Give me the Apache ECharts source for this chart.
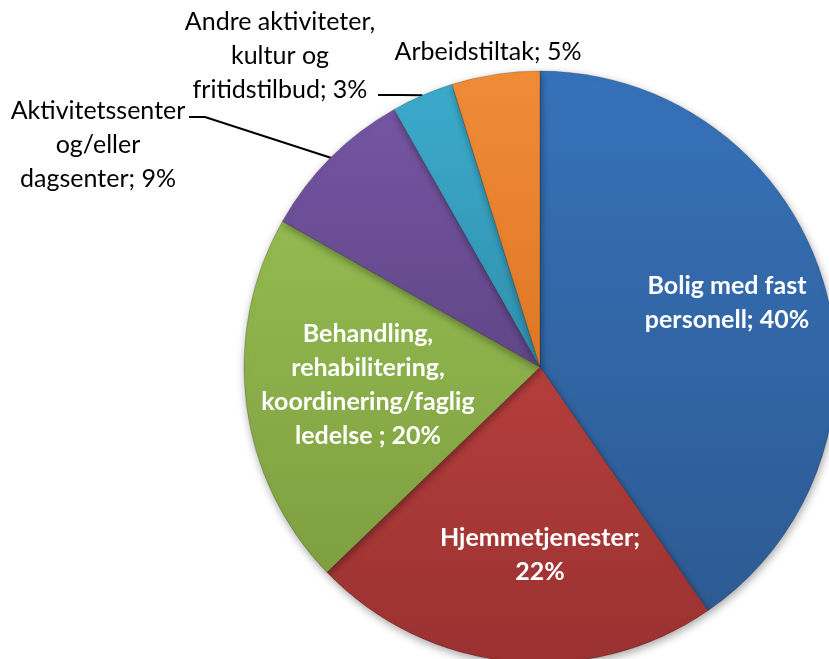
<!DOCTYPE html>
<html>
<head>
<meta charset="utf-8">
<script src="https://cdn.jsdelivr.net/npm/echarts@6/dist/echarts.min.js"></script>
<style>
html,body{margin:0;padding:0;background:#fff;}
#chart{width:829px;height:659px;}
</style>
</head>
<body>
<div id="chart"></div>
<script>
// ---- data ----
var categories = [
  'Bolig med fast\npersonell',
  'Hjemmetjenester',
  'Behandling,\nrehabilitering,\nkoordinering/faglig\nledelse ',
  'Aktivitetssenter\nog/eller\ndagsenter',
  'Andre aktiviteter,\nkultur og\nfritidstilbud',
  'Arbeidstiltak'
];
var values = [40.4, 22.4, 20.4, 8.6, 3.4, 4.8];
var separators = ['; ', ';\n', '; ', '; ', '; ', '; '];

// ---- styling ----
var colorsTop = ['#3672B9', '#B43F3C', '#93BA50', '#7455A2', '#3CAACB', '#F08B36'];
var colorsBottom = ['#2D5A93', '#9A3130', '#7F9F40', '#614687', '#3090AE', '#DE7826'];
var insideLabel = [true, true, true, false, false, false];
var labelPos = [[727, 303], [540, 555], [368, 385], [98, 145], [280, 56], [488, 52]];
var leaderEnd = [null, null, null, [[205, 117], [189, 117]], [[400, 95], [378, 95]], null];

var data = categories.map(function (c, i) {
  var item = {
    name: c,
    value: values[i],
    itemStyle: {
      color: new echarts.graphic.LinearGradient(0, 0, 0, 1, [
        { offset: 0, color: colorsTop[i] },
        { offset: 1, color: colorsBottom[i] }
      ])
    }
  };
  if (insideLabel[i]) {
    item.label = { position: 'inside', color: '#fff', fontWeight: 'bold', fontSize: 25 };
    item.labelLine = { show: false };
  } else {
    item.label = { position: 'outside', color: '#000', fontWeight: 'normal', fontSize: 25 };
    item.labelLine = { show: leaderEnd[i] != null, lineStyle: { color: '#000', width: 2 } };
  }
  return item;
});

var chart = echarts.init(document.getElementById('chart'), null, { renderer: 'canvas' });
chart.setOption({
  animation: false,
  backgroundColor: '#fff',
  series: [{
    type: 'pie',
    center: [540, 367],
    radius: 296,
    startAngle: 90,
    clockwise: true,
    avoidLabelOverlap: false,
    data: data,
    itemStyle: {
      borderColor: 'rgba(0,0,0,0.18)',
      borderWidth: 1,
      shadowBlur: 8,
      shadowOffsetX: 1,
      shadowOffsetY: 3,
      shadowColor: 'rgba(0,0,0,0.35)'
    },
    label: {
      fontFamily: 'Lato',
      lineHeight: 34,
      align: 'center',
      formatter: function (p) {
        return p.name + separators[p.dataIndex] + Math.round(p.percent) + '%';
      }
    },
    labelLine: { length: 20, length2: 20 },
    emphasis: { disabled: true },
    labelLayout: function (params) {
      var i = params.dataIndex;
      var out = {
        x: labelPos[i][0],
        y: labelPos[i][1],
        align: 'center',
        verticalAlign: 'middle',
        hideOverlap: false
      };
      if (leaderEnd[i] && params.labelLinePoints) {
        out.labelLinePoints = [params.labelLinePoints[0], leaderEnd[i][0], leaderEnd[i][1]];
      }
      return out;
    }
  }]
});
</script>
</body>
</html>
